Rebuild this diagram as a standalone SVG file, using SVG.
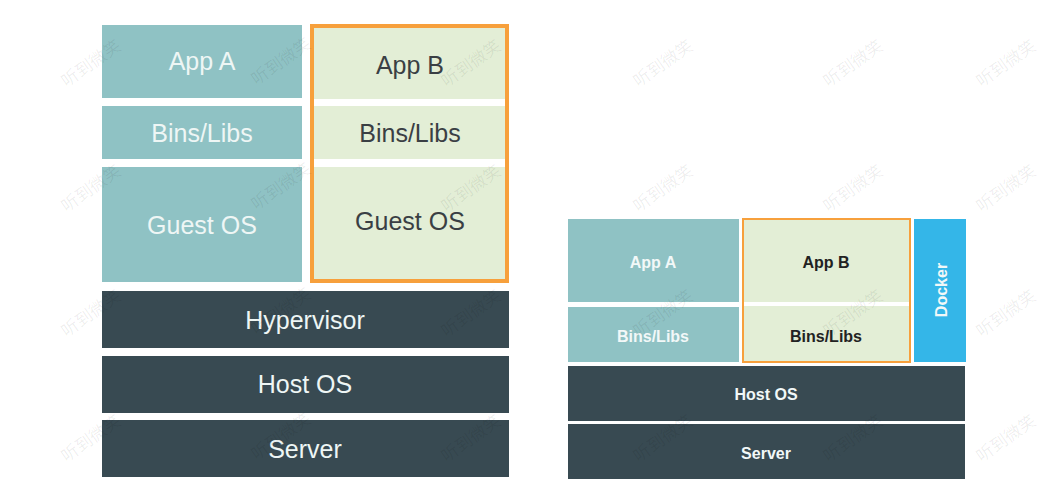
<svg xmlns="http://www.w3.org/2000/svg" width="1038" height="500" viewBox="0 0 1038 500">
<style>
.teal{fill:#8fc2c4}
.green{fill:#e3eed6}
.dark{fill:#384a52}
.docker{fill:#34b6e8}
.orange{fill:none;stroke:#f7a03c}
text{font-family:"Liberation Sans",Arial,sans-serif;text-anchor:middle;dominant-baseline:central}
.lw{fill:#eef6f5;font-size:25px}
.ld{fill:#3a3f44;font-size:25px}
.sw{fill:#f2f8f8;font-size:16px;font-weight:bold}
.sd{fill:#222;font-size:16px;font-weight:bold}
.wm{fill:#000;fill-opacity:0.07;font-family:"Noto Sans CJK SC",sans-serif;font-size:17px}
</style>
<rect width="1038" height="500" fill="#fff"/>
<g id="vm">
<g id="vm-appA"><rect class="teal" x="102" y="25" width="200" height="73"/><text class="lw" x="202" y="61">App A</text></g>
<g id="vm-binsA"><rect class="teal" x="102" y="106" width="200" height="53"/><text class="lw" x="202" y="133">Bins/Libs</text></g>
<g id="vm-guestA"><rect class="teal" x="102" y="167" width="200" height="115"/><text class="lw" x="202" y="225">Guest OS</text></g>
<g id="vm-B">
<rect class="green" x="312" y="26" width="195" height="255"/>
<rect fill="#fff" x="312" y="99" width="195" height="7"/>
<rect fill="#fff" x="312" y="159" width="195" height="8"/>
<rect class="orange" x="312" y="26" width="195" height="255" stroke-width="4"/>
<text class="ld" x="410" y="65">App B</text>
<text class="ld" x="410" y="133">Bins/Libs</text>
<text class="ld" x="410" y="221">Guest OS</text>
</g>
<g id="vm-hypervisor"><rect class="dark" x="102" y="291" width="407" height="57"/><text class="lw" x="305" y="320">Hypervisor</text></g>
<g id="vm-host"><rect class="dark" x="102" y="356" width="407" height="57"/><text class="lw" x="305" y="384">Host OS</text></g>
<g id="vm-server"><rect class="dark" x="102" y="420" width="407" height="57"/><text class="lw" x="305" y="449">Server</text></g>
</g>
<g id="docker">
<g id="d-appA"><rect class="teal" x="568" y="219" width="171" height="83"/><text class="sw" x="653" y="262">App A</text></g>
<g id="d-binsA"><rect class="teal" x="568" y="307" width="171" height="55"/><text class="sw" x="653" y="336">Bins/Libs</text></g>
<g id="d-B">
<rect class="green" x="743" y="219" width="167" height="143"/>
<rect fill="#fff" x="743" y="302" width="167" height="4"/>
<rect class="orange" x="743" y="219" width="167" height="143" stroke-width="2"/>
<text class="sd" x="826" y="262">App B</text>
<text class="sd" x="826" y="336">Bins/Libs</text>
</g>
<g id="d-docker"><rect class="docker" x="914" y="219" width="52" height="143"/><text class="sw" x="0" y="0" transform="translate(941,290) rotate(-90)">Docker</text></g>
<g id="d-host"><rect class="dark" x="568" y="366" width="397" height="55"/><text class="sw" x="766" y="394">Host OS</text></g>
<g id="d-server"><rect class="dark" x="568" y="424" width="397" height="55"/><text class="sw" x="766" y="453">Server</text></g>
</g>
<g id="watermarks">
<text class="wm" transform="translate(90,62) rotate(-35)">听到微笑</text>
<text class="wm" transform="translate(280,60) rotate(-35)">听到微笑</text>
<text class="wm" transform="translate(470,62) rotate(-35)">听到微笑</text>
<text class="wm" transform="translate(662,62) rotate(-35)">听到微笑</text>
<text class="wm" transform="translate(852,62) rotate(-35)">听到微笑</text>
<text class="wm" transform="translate(1005,62) rotate(-35)">听到微笑</text>
<text class="wm" transform="translate(90,187) rotate(-35)">听到微笑</text>
<text class="wm" transform="translate(280,185) rotate(-35)">听到微笑</text>
<text class="wm" transform="translate(470,187) rotate(-35)">听到微笑</text>
<text class="wm" transform="translate(662,187) rotate(-35)">听到微笑</text>
<text class="wm" transform="translate(852,187) rotate(-35)">听到微笑</text>
<text class="wm" transform="translate(1005,187) rotate(-35)">听到微笑</text>
<text class="wm" transform="translate(90,312) rotate(-35)">听到微笑</text>
<text class="wm" transform="translate(280,310) rotate(-35)">听到微笑</text>
<text class="wm" transform="translate(470,312) rotate(-35)">听到微笑</text>
<text class="wm" transform="translate(662,312) rotate(-35)">听到微笑</text>
<text class="wm" transform="translate(852,312) rotate(-35)">听到微笑</text>
<text class="wm" transform="translate(1005,312) rotate(-35)">听到微笑</text>
<text class="wm" transform="translate(90,437) rotate(-35)">听到微笑</text>
<text class="wm" transform="translate(280,435) rotate(-35)">听到微笑</text>
<text class="wm" transform="translate(470,437) rotate(-35)">听到微笑</text>
<text class="wm" transform="translate(662,437) rotate(-35)">听到微笑</text>
<text class="wm" transform="translate(852,437) rotate(-35)">听到微笑</text>
<text class="wm" transform="translate(1005,437) rotate(-35)">听到微笑</text>
</g>
</svg>
